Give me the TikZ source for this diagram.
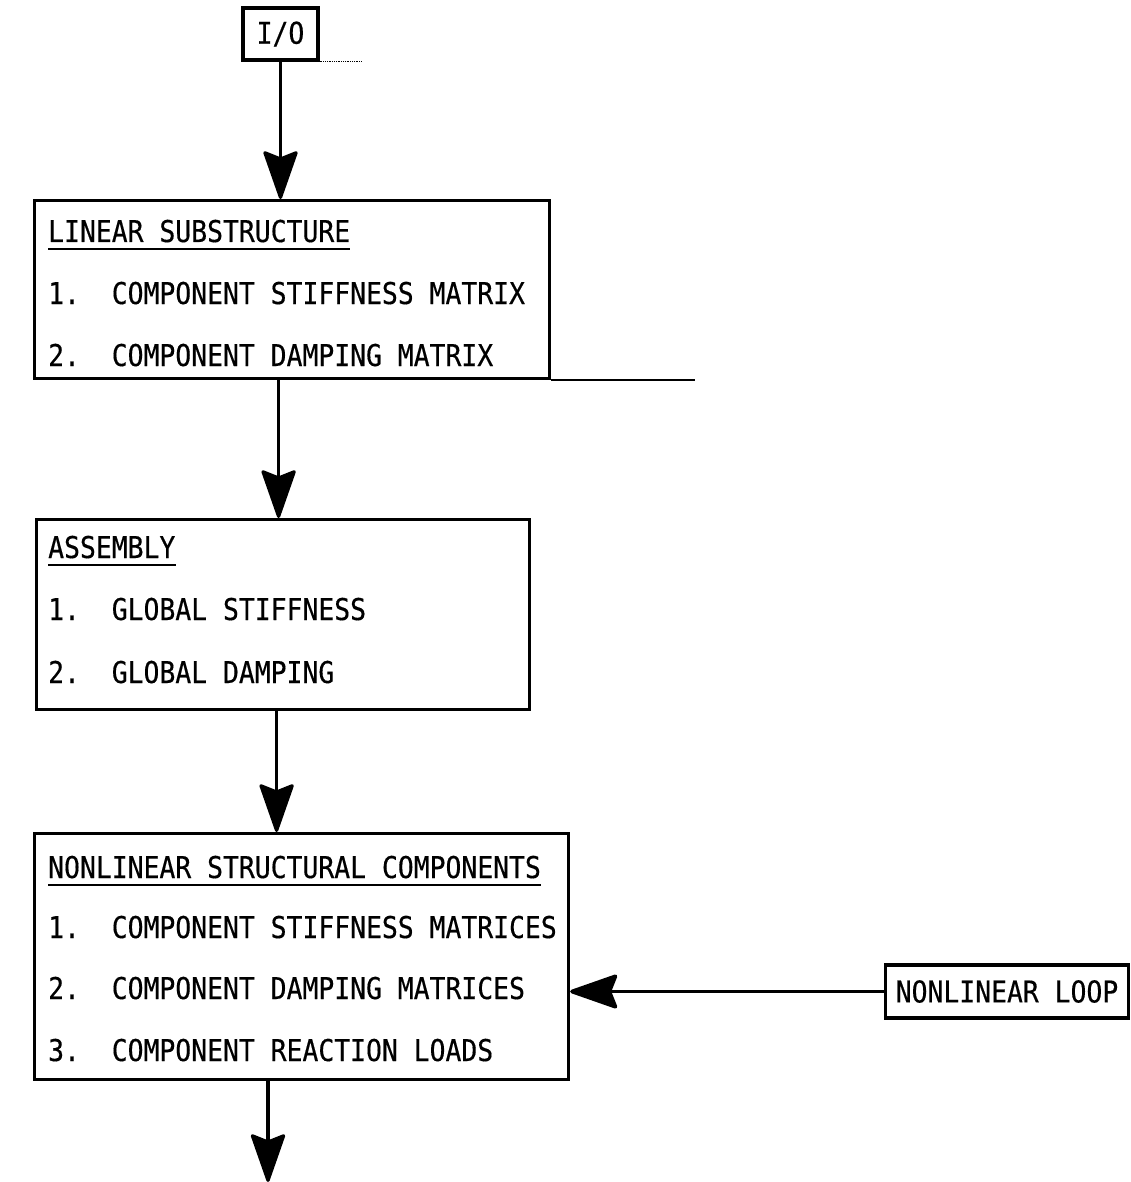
\documentclass[tikz,border=0pt]{standalone}
\usepackage{fontspec}
\newfontfamily\diagfont[FakeStretch=0.88,FakeBold=0.4]{DejaVu Sans Mono}
\usetikzlibrary{arrows.meta}
\begin{document}
\begin{tikzpicture}[x=1pt,y=-1pt,
  box/.style={draw, line width=3.2pt, inner sep=0pt},
  lbl/.style={font=\diagfont\fontsize{30}{34}\selectfont, inner sep=0pt},
  txt/.style={lbl, anchor=base west},
  uline/.style={line width=2pt},
  flow/.style={line width=3.2pt, -{Stealth[length=52pt,width=36pt,inset=7pt,round]}},
]
\useasboundingbox (0,0) rectangle (1130,1182);
\frenchspacing

% entry box
\node[box, lbl, minimum width=75pt, minimum height=52pt] (io) at (280.5,34) {I/O};
\draw[line width=0.8pt, densely dotted] (io.south east) -- ++(42,0);

% linear substructure
\node[box, anchor=north west, minimum width=515pt, minimum height=178pt] (lin) at (33,199) {};
\node[txt] (linh) at (48,242) {LINEAR SUBSTRUCTURE};
\draw[uline] ([yshift=-7pt]linh.base west) -- ([yshift=-7pt]linh.base east);
\node[txt] (lin1) at (48,304) {1.\ \ COMPONENT STIFFNESS MATRIX};
\node[txt] (lin2) at (48,366) {2.\ \ COMPONENT DAMPING MATRIX};
\draw[line width=1.8pt] (lin.south east) -- ++(144,0);

% assembly
\node[box, anchor=north west, minimum width=493pt, minimum height=190pt] (asm) at (35,518) {};
\node[txt] (asmh) at (48,558) {ASSEMBLY};
\draw[uline] ([yshift=-7pt]asmh.base west) -- ([yshift=-7pt]asmh.base east);
\node[txt] (asm1) at (48,620) {1.\ \ GLOBAL STIFFNESS};
\node[txt] (asm2) at (48,683) {2.\ \ GLOBAL DAMPING};

% nonlinear structural components
\node[box, anchor=north west, minimum width=534pt, minimum height=246pt] (nl) at (33,832) {};
\node[txt] (nlh) at (48,878) {NONLINEAR STRUCTURAL COMPONENTS};
\draw[uline] ([yshift=-7pt]nlh.base west) -- ([yshift=-7pt]nlh.base east);
\node[txt] (nl1) at (48,938) {1.\ \ COMPONENT STIFFNESS MATRICES};
\node[txt] (nl2) at (48,999) {2.\ \ COMPONENT DAMPING MATRICES};
\node[txt] (nl3) at (48,1061) {3.\ \ COMPONENT REACTION LOADS};

% loop box
\node[box, lbl, minimum width=243pt, minimum height=53pt] (loop) at (1007,991.5) {NONLINEAR LOOP};

% connectors
\coordinate (out) at (268,1182);
\draw[flow] (io.south) -- (io.south |- lin.north);
\draw[flow] ([xshift=-13.5pt]lin.south) -- ([xshift=-13.5pt]lin.south |- asm.north);
\draw[flow] ([xshift=-6.5pt]asm.south) -- ([xshift=-6.5pt]asm.south |- nl.north);
\draw[flow] (out |- nl.south) -- (out);
\draw[flow, line width=3.8pt] (loop.west) -- (nl.east |- loop.west);
\end{tikzpicture}
\end{document}
